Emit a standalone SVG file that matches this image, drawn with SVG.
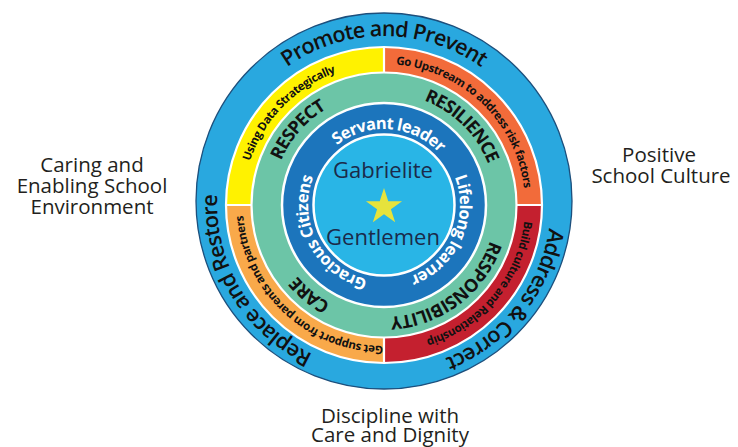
<svg xmlns="http://www.w3.org/2000/svg" width="738" height="447" viewBox="0 0 738 447">
<style>
text{font-family:"Open Sans","Liberation Sans",sans-serif}
.lbl{font-size:20.5px;fill:#231f20;text-anchor:middle}
.outer{font-size:21.5px;font-weight:600;fill:#111;letter-spacing:-0.8px}
.quad{font-size:11.5px;font-weight:700;fill:#111;letter-spacing:-0.4px}
.val{font-size:18px;font-weight:700;fill:#111;letter-spacing:-0.8px}
.trait{font-size:16.5px;font-weight:700;fill:#fff;letter-spacing:-0.6px}
.core{font-size:22px;fill:#1b2a4a;text-anchor:middle}
.sep{fill:none;stroke:#fff;stroke-width:2.2}
</style>
<defs>
<path id="pO" d="M384,370 A167,167 0 1 1 384,36 A167,167 0 1 1 384,370"/>
<path id="pQ" d="M384,346 A141,141 0 1 1 384,64 A141,141 0 1 1 384,346"/>
<path id="pG" d="M384,317 A112,112 0 1 1 384,93 A112,112 0 1 1 384,317"/>
<path id="pB" d="M384,281 A76,76 0 1 1 384,129 A76,76 0 1 1 384,281"/>
</defs>
<rect width="738" height="447" fill="#fff"/>
<g id="outer-ring">
<circle cx="384" cy="201" r="188" fill="#29a8df" stroke="#1d4f7c" stroke-width="1.3"/>
<text class="outer"><textPath href="#pO" startOffset="50%" text-anchor="middle">Promote and Prevent</textPath></text>
<text class="outer" transform="rotate(128.5 384 203)"><textPath href="#pO" startOffset="50%" text-anchor="middle">Address &amp; Correct</textPath></text>
<text class="outer" transform="rotate(-121 384 203)"><textPath href="#pO" startOffset="50%" text-anchor="middle">Replace and Restore</textPath></text>
</g>
<g id="quadrant-ring">
<path d="M384,205 L226,205 A158,158 0 0 1 384,47 Z" fill="#fff200"/>
<path d="M384,205 L384,47 A158,158 0 0 1 542,205 Z" fill="#f26b3a"/>
<path d="M384,205 L542,205 A158,158 0 0 1 384,363 Z" fill="#c4202f"/>
<path d="M384,205 L384,363 A158,158 0 0 1 226,205 Z" fill="#f9a94a"/>
<circle class="sep" cx="384" cy="205" r="158"/>
<path class="sep" d="M384,47 V72 M384,338 V363 M226,205 H251 M517,205 H542"/>
<text class="quad" transform="rotate(-46 384 205)"><textPath href="#pQ" startOffset="50%" text-anchor="middle">Using Data Strategically</textPath></text>
<text class="quad" transform="rotate(44 384 205)"><textPath href="#pQ" startOffset="50%" text-anchor="middle">Go Upstream to address risk factors</textPath></text>
<text class="quad" transform="rotate(129.5 384 205)"><textPath href="#pQ" startOffset="50%" text-anchor="middle">Build culture and Relationship</textPath></text>
<text class="quad" transform="rotate(-137 384 205)"><textPath href="#pQ" startOffset="50%" text-anchor="middle">Get support from parents and partners</textPath></text>
</g>
<g id="values-ring">
<circle cx="384" cy="205" r="132.5" fill="#6cc5a7" stroke="#fff" stroke-width="2.2"/>
<text class="val" transform="rotate(-49 384 205)"><textPath href="#pG" startOffset="50%" text-anchor="middle">RESPECT</textPath></text>
<text class="val" transform="rotate(44.5 384 205)"><textPath href="#pG" startOffset="50%" text-anchor="middle">RESILIENCE</textPath></text>
<text class="val" transform="rotate(142.5 384 205)"><textPath href="#pG" startOffset="50%" text-anchor="middle">RESPONSIBILITY</textPath></text>
<text class="val" transform="rotate(-140.5 384 205)"><textPath href="#pG" startOffset="50%" text-anchor="middle">CARE</textPath></text>
</g>
<g id="traits-ring">
<circle cx="384" cy="205" r="102" fill="#1c75bc" stroke="#fff" stroke-width="2.5"/>
<text class="trait" transform="rotate(4 384 205)"><textPath href="#pB" startOffset="50%" text-anchor="middle">Servant leader</textPath></text>
<text class="trait" transform="rotate(114 384 205)"><textPath href="#pB" startOffset="50%" text-anchor="middle">Lifelong learner</textPath></text>
<text class="trait" transform="rotate(-118 384 205)"><textPath href="#pB" startOffset="50%" text-anchor="middle">Gracious Citizens</textPath></text>
</g>
<g id="core">
<circle cx="384" cy="205" r="70.5" fill="#29b5e6" stroke="#fff" stroke-width="2.5"/>
<text class="core" x="383" y="178">Gabrielite</text>
<polygon points="384,188 388.27,201.13 402.07,201.13 390.9,209.24 395.17,222.37 384,214.26 372.83,222.37 377.1,209.24 365.93,201.13 379.73,201.13" fill="#e6e33c"/>
<text class="core" x="383" y="245">Gentlemen</text>
</g>
<g id="label-left">
<text class="lbl" x="92" y="172">Caring and</text>
<text class="lbl" x="92" y="193">Enabling School</text>
<text class="lbl" x="92" y="213.5">Environment</text>
</g>
<g id="label-right">
<text class="lbl" x="659" y="162">Positive</text>
<text class="lbl" x="661" y="183">School Culture</text>
</g>
<g id="label-bottom">
<text class="lbl" x="390" y="423">Discipline with</text>
<text class="lbl" x="390" y="442">Care and Dignity</text>
</g>
</svg>
